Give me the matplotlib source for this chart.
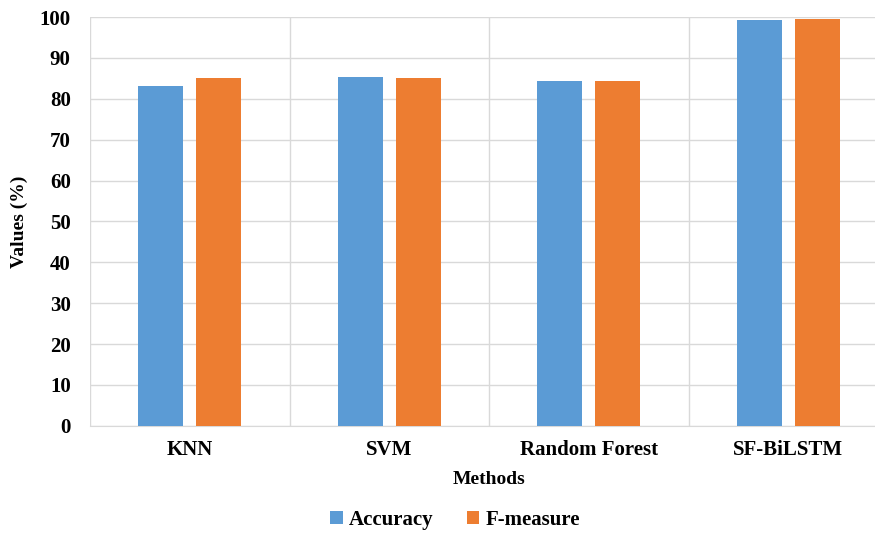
import matplotlib.pyplot as plt
import numpy as np

methods = ["KNN", "SVM", "Random Forest", "SF-BiLSTM"]
accuracy = [83.1, 85.4, 84.4, 99.3]
f_measure = [85.2, 85.2, 84.4, 99.5]
yticks = list(range(0, 101, 10))

plt.rcParams["font.family"] = ["Liberation Serif", "DejaVu Serif"]
plt.rcParams["font.weight"] = "bold"

fig = plt.figure(figsize=(8.75, 5.33), dpi=100)
ax = fig.add_axes([0.103, 0.201, 0.912, 0.767])

x = np.arange(len(methods))
w = 0.226
ax.bar(x - 0.145, accuracy, w, color="#5B9BD5", label="Accuracy", zorder=3)
ax.bar(x + 0.145, f_measure, w, color="#ED7D31", label="F-measure", zorder=3)

ax.set_xlim(-0.5, len(methods) - 0.5)
ax.set_ylim(0, 100)
ax.set_yticks(yticks)
ax.set_xticks(x)
ax.set_xticklabels(methods, fontsize=15, fontweight="bold")
ax.set_xticks(np.arange(-0.5, len(methods), 1), minor=True)
ax.tick_params(axis="y", length=0, pad=14, labelsize=15)
ax.tick_params(axis="x", which="both", length=0, pad=10)
for lbl in ax.get_yticklabels():
    lbl.set_fontweight("bold")

ax.grid(axis="y", color="#d9d9d9", linewidth=1, zorder=0)
ax.grid(axis="x", which="minor", color="#d9d9d9", linewidth=1, zorder=0)
for s in ["top", "right", "left"]:
    ax.spines[s].set_visible(False)
ax.spines["bottom"].set_color("#d9d9d9")

ax.set_ylabel("Values (%)", fontsize=14, fontweight="bold", labelpad=8)
ax.set_xlabel("Methods", fontsize=14, fontweight="bold", labelpad=8)

fig.legend(loc="center", bbox_to_anchor=(0.52, 0.024), ncol=2, frameon=False,
           handlelength=0.6, handleheight=0.6, columnspacing=1.6,
           handletextpad=0.3, prop={"weight": "bold", "size": 15})

fig.savefig("out.png", dpi=100)
